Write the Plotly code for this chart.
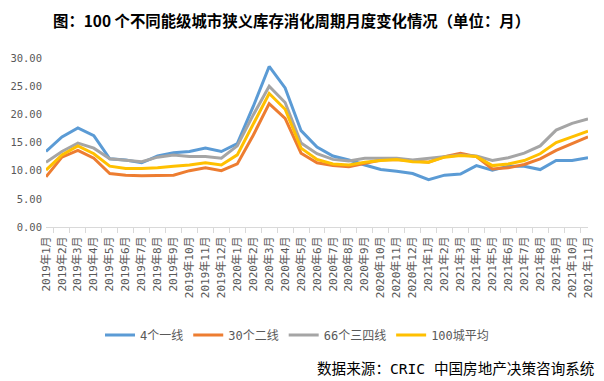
import plotly.graph_objects as go

months = [f"2019年{m}月" for m in range(1, 13)] + [f"2020年{m}月" for m in range(1, 13)] + [f"2021年{m}月" for m in range(1, 12)]

tier1 = [13.4, 16.0, 17.6, 16.2, 12.1, 11.9, 11.4, 12.6, 13.2, 13.4, 14.0, 13.4,
         14.8, 21.4, 28.5, 24.7, 17.1, 14.2, 12.6, 11.9, 11.0, 10.2,
         9.9, 9.5, 8.4, 9.2, 9.4, 10.9, 10.1, 10.8, 10.8, 10.2, 11.8, 11.8, 12.3]
tier2 = [8.9, 12.4, 13.6, 12.2, 9.5, 9.2, 9.1, 9.1, 9.2, 10.0, 10.5, 10.0,
         11.2, 16.3, 21.9, 19.3, 13.1, 11.4, 10.9, 10.7, 11.3, 11.9,
         12.0, 11.7, 11.5, 12.5, 13.1, 12.5, 10.3, 10.5, 11.1, 12.1, 13.6, 14.8, 16.0]
tier34 = [11.5, 13.4, 14.9, 14.0, 12.1, 11.8, 11.6, 12.4, 12.8, 12.5, 12.5, 12.2,
          14.4, 19.9, 25.0, 22.1, 14.9, 13.0, 12.0, 11.7, 12.2, 12.2,
          12.2, 11.9, 12.2, 12.6, 12.8, 12.6, 11.8, 12.3, 13.1, 14.4, 17.2, 18.4, 19.2]
avg100 = [10.1, 12.8, 14.4, 13.0, 10.8, 10.4, 10.4, 10.5, 10.8, 11.0, 11.4, 11.0,
          12.8, 18.4, 23.7, 20.9, 14.0, 12.0, 11.2, 11.0, 11.5, 11.8,
          12.0, 11.6, 11.5, 12.4, 12.7, 12.5, 10.9, 11.2, 11.8, 13.0, 15.0, 16.0, 17.0]

series_names = ["4个一线", "30个二线", "66个三四线", "100城平均"]
series_values = [tier1, tier2, tier34, avg100]
colors = ["#5B9BD5", "#ED7D31", "#A5A5A5", "#FFC000"]

y_ticks = [0, 5, 10, 15, 20, 25, 30]
y_tick_labels = ["0.00", "5.00", "10.00", "15.00", "20.00", "25.00", "30.00"]

CJK = "Noto Sans CJK SC"
MONO = "DejaVu Sans Mono, Noto Sans CJK SC"

# page body has an 8px default margin; lay out in screen pixels and compensate
OFF = 8
W, H = 604, 381
PL, PR, PT, PB = 46, 588, 58, 227  # plot area in screen pixels
L, T = PL - OFF, PT - OFF
R, B = W - (PR - OFF), H - (PB - OFF)
PW, PH = PR - PL, PB - PT

def px_x(x):
    return (x - PL) / PW

def px_y(y):
    return (PB - y) / PH

fig = go.Figure()
for name, vals, c in zip(series_names, series_values, colors):
    fig.add_trace(go.Scatter(x=months, y=vals, mode="lines", name=name,
                             line=dict(color=c, width=3)))

fig.update_layout(
    width=W, height=H,
    margin=dict(l=L, r=R, t=T, b=B, autoexpand=False),
    paper_bgcolor="white", plot_bgcolor="white",
    font=dict(family=MONO, color="#595959", size=11),
    showlegend=True,
    legend=dict(orientation="h", x=px_x(297), y=px_y(335),
                xanchor="center", yanchor="middle",
                font=dict(size=12, color="#595959", family=MONO),
                tracegroupgap=0),
    annotations=[
        dict(text="<b>图：100 个不同能级城市狭义库存消化周期月度变化情况（单位：月）</b>",
             xref="paper", yref="paper", x=px_x(291), y=px_y(20),
             xanchor="center", yanchor="middle", showarrow=False, borderpad=0,
             font=dict(size=15.4, color="black", family=CJK)),
        dict(text="数据来源：CRIC 中国房地产决策咨询系统",
             xref="paper", yref="paper", x=px_x(596), y=px_y(368),
             xanchor="right", yanchor="middle", showarrow=False,
             font=dict(size=14.6, color="black", family=MONO)),
    ],
)

fig.update_xaxes(type="category", tickangle=-90, tickfont=dict(size=11, color="#595959", family=MONO),
                 showline=True, linecolor="#D9D9D9", linewidth=1,
                 ticks="outside", tickson="boundaries", tickcolor="#D9D9D9", ticklen=5,
                 ticklabelstandoff=4, showgrid=False)
fig.update_yaxes(range=[0, 30], tickvals=y_ticks, ticktext=y_tick_labels,
                 tickfont=dict(size=10.5, color="#595959", family=MONO),
                 ticklabelstandoff=3,
                 showgrid=False, zeroline=False, showline=False, ticks="")

fig.write_html("out.html")
